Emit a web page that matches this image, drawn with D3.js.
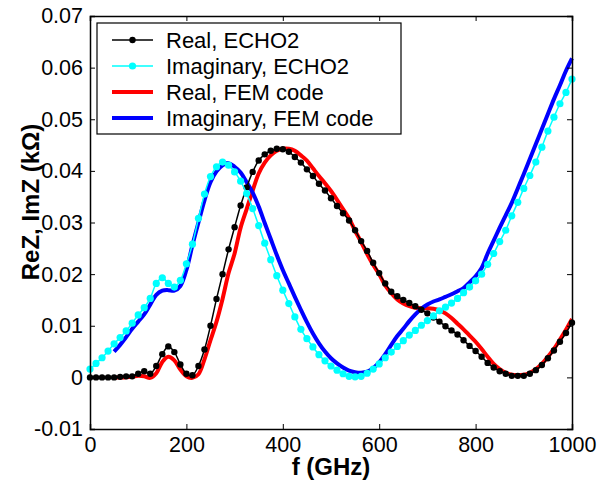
<!DOCTYPE html>
<html>
<head>
<meta charset="utf-8">
<script src="https://cdn.jsdelivr.net/npm/d3@7"></script>
<style>
  body { margin: 0; background: #fff; }
  svg text { font-family: "Liberation Sans", Arial, sans-serif; }
</style>
</head>
<body>
<div id="chart"></div>
<script>
// frequency grid of the ECHO2 runs (GHz)
var freqEcho = [0,12.5,25,37.5,50,62.5,75,87.5,100,112.5,125,137.5,150,162.5,175,187.5,200,212.5,225,237.5,
  250,262.5,275,287.5,300,312.5,325,337.5,350,362.5,375,387.5,400,412.5,425,437.5,450,462.5,475,487.5,
  500,512.5,525,537.5,550,562.5,575,587.5,600,612.5,625,637.5,650,662.5,675,687.5,700,712.5,725,737.5,
  750,762.5,775,787.5,800,812.5,825,837.5,850,862.5,875,887.5,900,912.5,925,937.5,950,962.5,975,987.5,1000];

var reEcho = [0,0,0,0,0,0.0001,0.0002,0.0002,0.0007,0.0012,0.0007,0.0022,0.0045,0.0060,0.0049,0.0025,0.0007,0.0004,0.0022,0.0054,
  0.0100,0.0152,0.0200,0.0248,0.0291,0.0333,0.0368,0.0398,0.0420,0.0432,0.0439,0.0443,0.0442,0.0437,0.0427,0.0416,0.0403,0.0390,0.0375,0.0362,
  0.0347,0.0332,0.0318,0.0304,0.0285,0.0264,0.0245,0.0222,0.0202,0.0182,0.0166,0.0157,0.0150,0.0144,0.0138,0.0131,0.0124,0.0116,0.0108,0.0099,
  0.0091,0.0083,0.0072,0.0061,0.0051,0.0040,0.0028,0.0019,0.0012,0.0007,0.0003,0.0003,0.0003,0.0007,0.0014,0.0024,0.0037,0.0052,0.0069,0.0086,0.0106];

var imEcho = [0.0016,0.0027,0.0038,0.0051,0.0065,0.0077,0.0090,0.0105,0.0121,0.0135,0.0153,0.0182,0.0193,0.0182,0.0175,0.0188,0.0220,0.0258,0.0308,0.0355,
  0.0389,0.0408,0.0417,0.0411,0.0398,0.0380,0.0356,0.0327,0.0294,0.0260,0.0228,0.0197,0.0169,0.0143,0.0117,0.0093,0.0075,0.0059,0.0044,0.0032,
  0.0022,0.0014,0.0007,0.0002,0.0001,0.0002,0.0008,0.0016,0.0026,0.0038,0.0049,0.0060,0.0071,0.0082,0.0091,0.0101,0.0110,0.0119,0.0129,0.0136,
  0.0144,0.0153,0.0164,0.0175,0.0187,0.0200,0.0219,0.0240,0.0263,0.0285,0.0313,0.0339,0.0366,0.0391,0.0417,0.0446,0.0477,0.0504,0.0530,0.0552,0.0578];

// FEM code runs start at 50 GHz
var freqFem = freqEcho.slice(4);

var reFem = [0,0,0,0.0001,0.0003,0.0002,-0.0001,0.0008,0.0030,0.0040,0.0033,0.0015,0.0002,-0.0001,0.0006,0.0035,
  0.0072,0.0108,0.0152,0.0202,0.0240,0.0290,0.0326,0.0362,0.0395,0.0416,0.0430,0.0439,0.0443,0.0443,0.0439,0.0430,0.0420,0.0405,0.0390,0.0376,
  0.0361,0.0344,0.0326,0.0308,0.0284,0.0262,0.0239,0.0218,0.0200,0.0178,0.0163,0.0151,0.0143,0.0138,0.0135,0.0134,0.0134,0.0133,0.0130,0.0124,
  0.0115,0.0104,0.0093,0.0081,0.0069,0.0055,0.0040,0.0026,0.0016,0.0009,0.0005,0.0004,0.0005,0.0009,0.0016,0.0026,0.0040,0.0055,0.0073,0.0092,0.0113];

var imFem = [0.0050,0.0063,0.0078,0.0094,0.0108,0.0122,0.0141,0.0160,0.0168,0.0169,0.0168,0.0177,0.0208,0.0256,0.0300,0.0343,
  0.0378,0.0399,0.0411,0.0415,0.0408,0.0397,0.0378,0.0358,0.0331,0.0299,0.0268,0.0237,0.0208,0.0182,0.0156,0.0131,0.0107,0.0085,0.0066,0.0050,
  0.0037,0.0027,0.0019,0.0013,0.0010,0.0009,0.0011,0.0018,0.0029,0.0045,0.0063,0.0080,0.0094,0.0109,0.0122,0.0133,0.0141,0.0147,0.0151,0.0156,
  0.0161,0.0167,0.0173,0.0184,0.0196,0.0212,0.0240,0.0265,0.0290,0.0314,0.0338,0.0366,0.0394,0.0423,0.0452,0.0481,0.0510,0.0539,0.0566,0.0594,0.0618];

var xTicks = [0,200,400,600,800,1000];
var yTicks = [-0.01,0,0.01,0.02,0.03,0.04,0.05,0.06,0.07];
var legendLabels = ["Real, ECHO2","Imaginary, ECHO2","Real, FEM code","Imaginary, FEM code"];

var width = 599, height = 483;
var margin = {top:16, right:27, bottom:54, left:90};
var plotWidth = width - margin.left - margin.right;
var plotHeight = height - margin.top - margin.bottom;

var svg = d3.select('#chart').append('svg').attr('width',width).attr('height',height);
var plotArea = svg.append('g').attr('transform','translate('+margin.left+','+margin.top+')');

var xs = d3.scaleLinear().domain([0,1000]).range([0,plotWidth]);
var ys = d3.scaleLinear().domain([-0.01,0.07]).range([plotHeight,0]);

function pairs(fr, vals){
  return vals.map(function(v,i){ return {f:fr[i], v:v}; });
}
var series = [
  {data:pairs(freqFem,reFem), color:'#ff0000', width:4, dot:0},
  {data:pairs(freqFem,imFem), color:'#0000ff', width:4, dot:0},
  {data:pairs(freqEcho,reEcho), color:'#000000', width:1.5, dot:3.2},
  {data:pairs(freqEcho,imEcho), color:'#00ffff', width:1.5, dot:3.6}
];

var line = d3.line()
  .x(function(d){ return xs(d.f); })
  .y(function(d){ return ys(d.v); })
  .curve(d3.curveCatmullRom);

series.forEach(function(s){
  plotArea.append('path').datum(s.data)
    .attr('fill','none').attr('stroke',s.color)
    .attr('stroke-width',s.width).attr('stroke-linejoin','round')
    .attr('d',line);
  if(s.dot>0){
    plotArea.selectAll(null).data(s.data).enter().append('circle')
      .attr('cx',function(d){ return xs(d.f); })
      .attr('cy',function(d){ return ys(d.v); })
      .attr('r',s.dot).attr('fill',s.color);
  }
});

// axes, ticks pointing inward on all four sides
var axB = plotArea.append('g').attr('transform','translate(0,'+plotHeight+')')
  .call(d3.axisBottom(xs).tickValues(xTicks).tickSize(-5).tickPadding(8).tickFormat(d3.format('d')));
var axT = plotArea.append('g')
  .call(d3.axisTop(xs).tickValues(xTicks).tickSize(-5).tickFormat(''));
var axL = plotArea.append('g')
  .call(d3.axisLeft(ys).tickValues(yTicks).tickSize(-5).tickPadding(7)
    .tickFormat(function(d){ return Math.abs(d) < 1e-9 ? '0' : d3.format('.2f')(d).replace('\u2212','-'); }));
var axR = plotArea.append('g').attr('transform','translate('+plotWidth+',0)')
  .call(d3.axisRight(ys).tickValues(yTicks).tickSize(-5).tickFormat(''));

[axB,axT,axL,axR].forEach(function(a){
  a.selectAll('path').attr('stroke','#000').attr('stroke-width',1.5);
  a.selectAll('line').attr('stroke','#000').attr('stroke-width',1);
  a.selectAll('text').attr('fill','#000').style('font-size','21.5px');
});

// legend
var legend = plotArea.append('g').attr('transform','translate(7,7)');
legend.append('rect').attr('width',304).attr('height',111)
  .attr('fill','#fff').attr('stroke','#000').attr('stroke-width',1.2);
var legendStyle = [series[2],series[3],series[0],series[1]];
legendLabels.forEach(function(lbl,i){
  var s = legendStyle[i];
  var cy = 17 + i*26;
  legend.append('line').attr('x1',15).attr('x2',56).attr('y1',cy).attr('y2',cy)
    .attr('stroke',s.color).attr('stroke-width',s.width);
  if(s.dot>0)
    legend.append('circle').attr('cx',35.5).attr('cy',cy).attr('r',s.dot).attr('fill',s.color);
  legend.append('text').attr('x',69).attr('y',cy+7.5)
    .style('font-size','22px').attr('fill','#000').text(lbl);
});

// axis labels
svg.append('text').attr('x',margin.left+plotWidth/2).attr('y',475)
  .attr('text-anchor','middle').style('font-size','24px').style('font-weight','bold')
  .text('f (GHz)');
svg.append('text').attr('transform','translate(39,202) rotate(-90)')
  .attr('text-anchor','middle').style('font-size','24px').style('font-weight','bold')
  .text('ReZ, ImZ (kΩ)');
</script>
</body>
</html>
